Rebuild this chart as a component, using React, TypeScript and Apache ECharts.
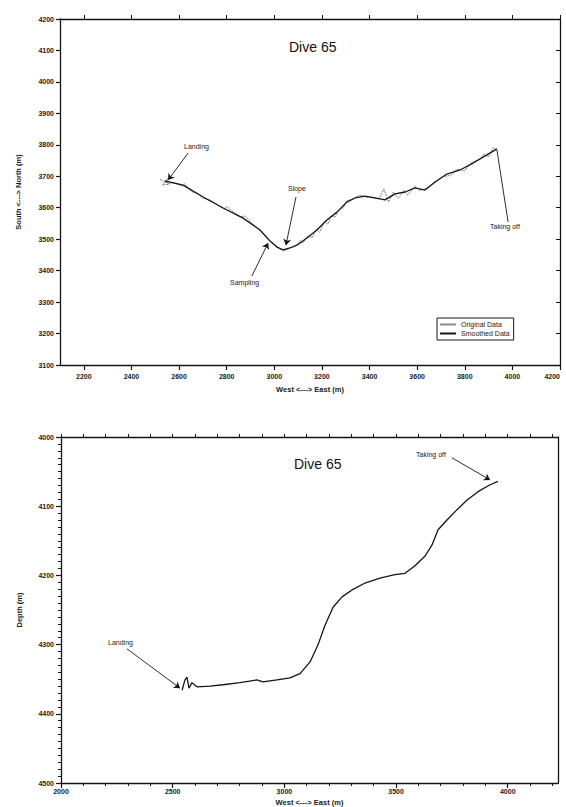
import React, { useEffect, useRef } from "react";
import * as echarts from "echarts";

// ---------- Top chart: plan view (West-East vs South-North) ----------
const topXTicks = [2200, 2400, 2600, 2800, 3000, 3200, 3400, 3600, 3800, 4000, 4200];
const topXRange = [2100, 4200];
const topYRange = [3100, 4200];

// smoothed track [east, north]
const smoothEast = [2541, 2617, 2701, 2785, 2869, 2940, 2982, 3011, 3037, 3066, 3095, 3137, 3179, 3221, 3263, 3305, 3339, 3381, 3423, 3465, 3507, 3549, 3591, 3633, 3675, 3725, 3780, 3835, 3893, 3935];
const smoothNorth = [3685, 3672, 3634, 3599, 3567, 3529, 3494, 3475, 3466, 3472, 3481, 3504, 3529, 3561, 3586, 3618, 3631, 3637, 3631, 3625, 3644, 3650, 3663, 3656, 3682, 3707, 3720, 3742, 3768, 3787];

// original (noisy) track [east, north]
const origEast = [2520, 2560, 2530, 2555, 2545, 2580, 2610, 2625, 2650, 2680, 2700, 2730, 2760, 2790, 2800, 2830, 2860, 2875, 2900, 2930, 2960, 2985, 3010, 3040, 3070, 3090, 3110, 3120, 3140, 3160, 3175, 3190, 3210, 3225, 3240, 3255, 3270, 3290, 3305, 3330, 3360, 3385, 3410, 3440, 3460, 3480, 3500, 3520, 3545, 3560, 3590, 3610, 3640, 3660, 3690, 3710, 3740, 3770, 3800, 3830, 3860, 3880, 3900, 3920, 3935];
const origNorth = [3690, 3675, 3672, 3695, 3680, 3678, 3670, 3676, 3652, 3645, 3630, 3625, 3610, 3596, 3604, 3585, 3570, 3575, 3555, 3535, 3515, 3492, 3478, 3462, 3474, 3478, 3495, 3488, 3510, 3505, 3532, 3522, 3555, 3548, 3575, 3570, 3592, 3600, 3622, 3628, 3640, 3634, 3632, 3628, 3660, 3618, 3650, 3630, 3655, 3640, 3668, 3655, 3662, 3672, 3688, 3700, 3702, 3722, 3718, 3745, 3752, 3770, 3762, 3790, 3785];

// ---------- Bottom chart: depth profile ----------
const botXLabels = [2000, 2500, 3000, 3500, 4000];
const botXMinor = [2000, 2100, 2200, 2300, 2400, 2500, 2600, 2700, 2800, 2900, 3000, 3100, 3200, 3300, 3400, 3500, 3600, 3700, 3800, 3900, 4000, 4100, 4200];
const botXRange = [2000, 4225];
const botYRange = [4000, 4500];

const depthEast = [2542, 2555, 2564, 2573, 2586, 2609, 2667, 2725, 2801, 2877, 2904, 2967, 3025, 3070, 3115, 3151, 3182, 3218, 3258, 3303, 3361, 3428, 3495, 3540, 3585, 3630, 3661, 3688, 3728, 3773, 3818, 3867, 3921, 3956];
const depthValue = [4366, 4351, 4347, 4363, 4355, 4361, 4360, 4358, 4355, 4351, 4354, 4351, 4348, 4342, 4325, 4300, 4272, 4246, 4231, 4221, 4211, 4204, 4199, 4197, 4186, 4172, 4156, 4134, 4120, 4105, 4091, 4079, 4069, 4064];

// annotation arrows (data coordinates): [fromX, fromY, toX, toY]
const topArrows = [
  [2638, 3774, 2554, 3688], // Landing
  [3091, 3634, 3049, 3481], // Slope
  [2906, 3383, 2974, 3488], // Sampling
];
const topTakeOff = [3982, 3555, 3935, 3784];
const botArrows = [
  [2295, 4306, 2533, 4363], // Landing
  [3750, 4030, 3921, 4062], // Taking off
];

const FONT = "'Liberation Sans', Arial, Helvetica, sans-serif";
const INK = "#151515";

export default function App() {
  const ref = useRef<HTMLDivElement>(null);
  useEffect(() => {
    if (!ref.current) return;
    const chart = echarts.init(ref.current, undefined, { renderer: "svg" });
    const zip = (a: number[], b: number[]) => a.map((v, i) => [v, b[i]]);
    const arrowData = (arr: number[][]) =>
      arr.map((a) => [{ coord: [a[0], a[1]], symbol: "none" }, { coord: [a[2], a[3]], symbol: "arrow" }]);
    const plain = (v: number) => String(v);

    const axisLine = { show: true, onZero: false, lineStyle: { color: INK, width: 1.3 } };
    const lbl = { fontSize: 7, fontWeight: "bold" as const, color: "#1a1a1a", fontFamily: FONT, formatter: plain };

    chart.setOption({
      animation: false,
      backgroundColor: "#fff",
      textStyle: { fontFamily: FONT },
      grid: [
        { left: 60, top: 19, width: 500, height: 346, outerBoundsMode: "none", containLabel: false },
        { left: 61, top: 437, width: 497, height: 346, outerBoundsMode: "none", containLabel: false },
      ],
      legend: {
        data: ["Original Data", "Smoothed Data"],
        orient: "vertical",
        left: 437,
        top: 318,
        itemGap: 2,
        itemWidth: 16,
        itemHeight: 2,
        icon: "rect",
        padding: [3, 4, 3, 3],
        borderColor: INK,
        borderWidth: 1,
        textStyle: { fontSize: 7, color: "#1a1a1a", fontFamily: FONT },
      },
      xAxis: [
        {
          gridIndex: 0, type: "value", position: "bottom", min: topXRange[0], max: topXRange[1],
          axisLine, splitLine: { show: false },
          axisTick: { show: true, customValues: topXTicks, length: 5, lineStyle: { color: INK, width: 1.2 } },
          axisLabel: { ...lbl, customValues: topXTicks, margin: 8, alignMaxLabel: "right" },
          name: "West <---> East (m)", nameLocation: "middle", nameGap: 20,
          nameTextStyle: { fontSize: 7.5, fontWeight: "bold", color: "#1a1a1a" },
        },
        {
          gridIndex: 0, type: "value", position: "top", min: topXRange[0], max: topXRange[1],
          axisLine, splitLine: { show: false },
          axisTick: { show: true, customValues: topXTicks, length: 4, lineStyle: { color: INK } },
          axisLabel: { show: false },
        },
        {
          gridIndex: 1, type: "value", position: "bottom", min: botXRange[0], max: botXRange[1],
          axisLine, splitLine: { show: false },
          axisTick: { show: true, customValues: botXLabels, length: 5, lineStyle: { color: INK, width: 1.2 } },
          axisLabel: { ...lbl, customValues: botXLabels, margin: 5 },
          name: "West <---> East (m)", nameLocation: "middle", nameGap: 15,
          nameTextStyle: { fontSize: 7.5, fontWeight: "bold", color: "#1a1a1a" },
        },
        {
          gridIndex: 1, type: "value", position: "bottom", min: botXRange[0], max: botXRange[1],
          axisLine: { show: false }, splitLine: { show: false },
          axisTick: { show: true, customValues: botXMinor, length: 3, lineStyle: { color: INK } },
          axisLabel: { show: false },
        },
        {
          gridIndex: 1, type: "value", position: "top", min: botXRange[0], max: botXRange[1],
          axisLine, splitLine: { show: false },
          axisTick: { show: true, customValues: botXMinor, length: 3, lineStyle: { color: INK } },
          axisLabel: { show: false },
        },
      ],
      yAxis: [
        {
          gridIndex: 0, type: "value", position: "left", min: topYRange[0], max: topYRange[1], interval: 100,
          axisLine, splitLine: { show: false },
          axisTick: { show: true, length: 4, lineStyle: { color: INK, width: 1.2 } },
          axisLabel: { ...lbl, margin: 6 },
          name: "South <---> North (m)", nameLocation: "middle", nameGap: 38, nameRotate: 90,
          nameTextStyle: { fontSize: 7.5, fontWeight: "bold", color: "#1a1a1a" },
        },
        {
          gridIndex: 0, type: "value", position: "right", min: topYRange[0], max: topYRange[1], interval: 100,
          axisLine, splitLine: { show: false },
          axisTick: { show: true, inside: true, length: 4, lineStyle: { color: INK } },
          axisLabel: { show: false },
        },
        {
          gridIndex: 1, type: "value", position: "left", min: botYRange[0], max: botYRange[1], interval: 100, inverse: true,
          axisLine, splitLine: { show: false },
          axisTick: { show: true, length: 5, lineStyle: { color: INK, width: 1.2 } },
          minorTick: { show: true, splitNumber: 10, length: 3, lineStyle: { color: INK } },
          axisLabel: { ...lbl, margin: 7 },
          name: "Depth (m)", nameLocation: "middle", nameGap: 38, nameRotate: 90,
          nameTextStyle: { fontSize: 7.5, fontWeight: "bold", color: "#1a1a1a" },
        },
        {
          gridIndex: 1, type: "value", position: "right", min: botYRange[0], max: botYRange[1], inverse: true,
          axisLine, splitLine: { show: false },
          axisTick: { show: false }, axisLabel: { show: false },
        },
      ],
      series: [
        {
          name: "Original Data", type: "line", xAxisIndex: 0, yAxisIndex: 0,
          data: zip(origEast, origNorth), symbol: "none", silent: true,
          lineStyle: { color: "#6a6a6a", width: 0.9, type: [2, 1] },
          itemStyle: { color: "#8a8a8a" },
        },
        {
          name: "Smoothed Data", type: "line", xAxisIndex: 0, yAxisIndex: 0,
          data: zip(smoothEast, smoothNorth), symbol: "none", silent: true,
          lineStyle: { color: INK, width: 1.3 },
          itemStyle: { color: INK },
          markLine: {
            silent: true, symbolSize: 6, label: { show: false },
            lineStyle: { color: INK, width: 0.9, type: "solid" },
            data: [
              ...arrowData(topArrows),
              [{ coord: [topTakeOff[0], topTakeOff[1]], symbol: "none" }, { coord: [topTakeOff[2], topTakeOff[3]], symbol: "none" }],
            ],
          },
        },
        {
          name: "Depth", type: "line", xAxisIndex: 2, yAxisIndex: 2,
          data: zip(depthEast, depthValue), symbol: "none", silent: true,
          lineStyle: { color: INK, width: 1.3 },
          markLine: {
            silent: true, symbolSize: 6, label: { show: false },
            lineStyle: { color: INK, width: 0.9, type: "solid" },
            data: arrowData(botArrows),
          },
        },
      ],
      graphic: [
        { type: "text", left: 289, top: 40, style: { text: "Dive 65", fontSize: 14, fill: "#111", fontFamily: FONT } },
        { type: "text", left: 294, top: 457, style: { text: "Dive 65", fontSize: 14, fill: "#111", fontFamily: FONT } },
        { type: "text", left: 184, top: 143, style: { text: "Landing", fontSize: 7, fill: "#1a1a1a", fontFamily: FONT } },
        { type: "text", left: 288, top: 185, style: { text: "Slope", fontSize: 7, fill: "#1a1a1a", fontFamily: FONT } },
        { type: "text", left: 230, top: 279, style: { text: "Sampling", fontSize: 7, fill: "#1a1a1a", fontFamily: FONT } },
        { type: "text", left: 490, top: 223, style: { text: "Taking off", fontSize: 7, fill: "#1a1a1a", fontFamily: FONT } },
        { type: "text", left: 108, top: 639, style: { text: "Landing", fontSize: 7, fill: "#1a1a1a", fontFamily: FONT } },
        { type: "text", left: 416, top: 451, style: { text: "Taking off", fontSize: 7, fill: "#1a1a1a", fontFamily: FONT } },
      ],
    });
    return () => chart.dispose();
  }, []);
  return <div ref={ref} style={{ position: "fixed", left: 0, top: 0, width: 566, height: 807, background: "#fff" }} />;
}
